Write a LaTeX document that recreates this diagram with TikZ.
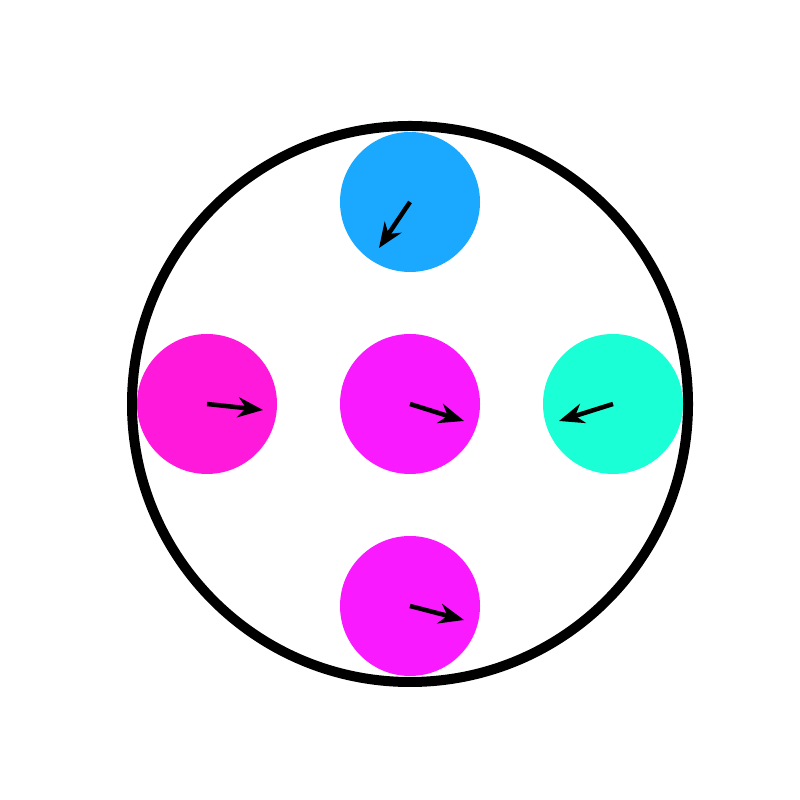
\documentclass[tikz,border=0pt]{standalone}
\usetikzlibrary{arrows.meta}
\definecolor{skyblue}{RGB}{27,169,255}
\definecolor{pinkmag}{RGB}{255,26,219}
\definecolor{violetmag}{RGB}{249,26,255}
\definecolor{aqua}{RGB}{26,255,213}
\begin{document}
\begin{tikzpicture}[
  disc/.style={circle, minimum size=14mm, inner sep=0pt},
  rim/.style={draw=black, line width=0.10cm},
  vec/.style={draw=black, line width=0.045cm, -{Stealth[length=2.5mm, width=2mm, inset=0.8mm]}}
]
  \useasboundingbox (0,0) rectangle (8,8);
  \draw[rim] (4.10,3.96) circle (2.78);
  \node[disc, fill=skyblue] (N) at (4.10,5.98) {};
  \node[disc, fill=pinkmag] (W) at (2.07,3.96) {};
  \node[disc, fill=violetmag] (C) at (4.10,3.96) {};
  \node[disc, fill=aqua] (E) at (6.13,3.96) {};
  \node[disc, fill=violetmag] (S) at (4.10,1.94) {};
  \coordinate (Nv) at (3.79,5.52);
  \coordinate (Wv) at (2.63,3.90);
  \coordinate (Cv) at (4.64,3.79);
  \coordinate (Ev) at (5.59,3.79);
  \coordinate (Sv) at (4.64,1.80);
  \draw[vec] (N.center) -- (Nv);
  \draw[vec] (W.center) -- (Wv);
  \draw[vec] (C.center) -- (Cv);
  \draw[vec] (E.center) -- (Ev);
  \draw[vec] (S.center) -- (Sv);
\end{tikzpicture}
\end{document}
